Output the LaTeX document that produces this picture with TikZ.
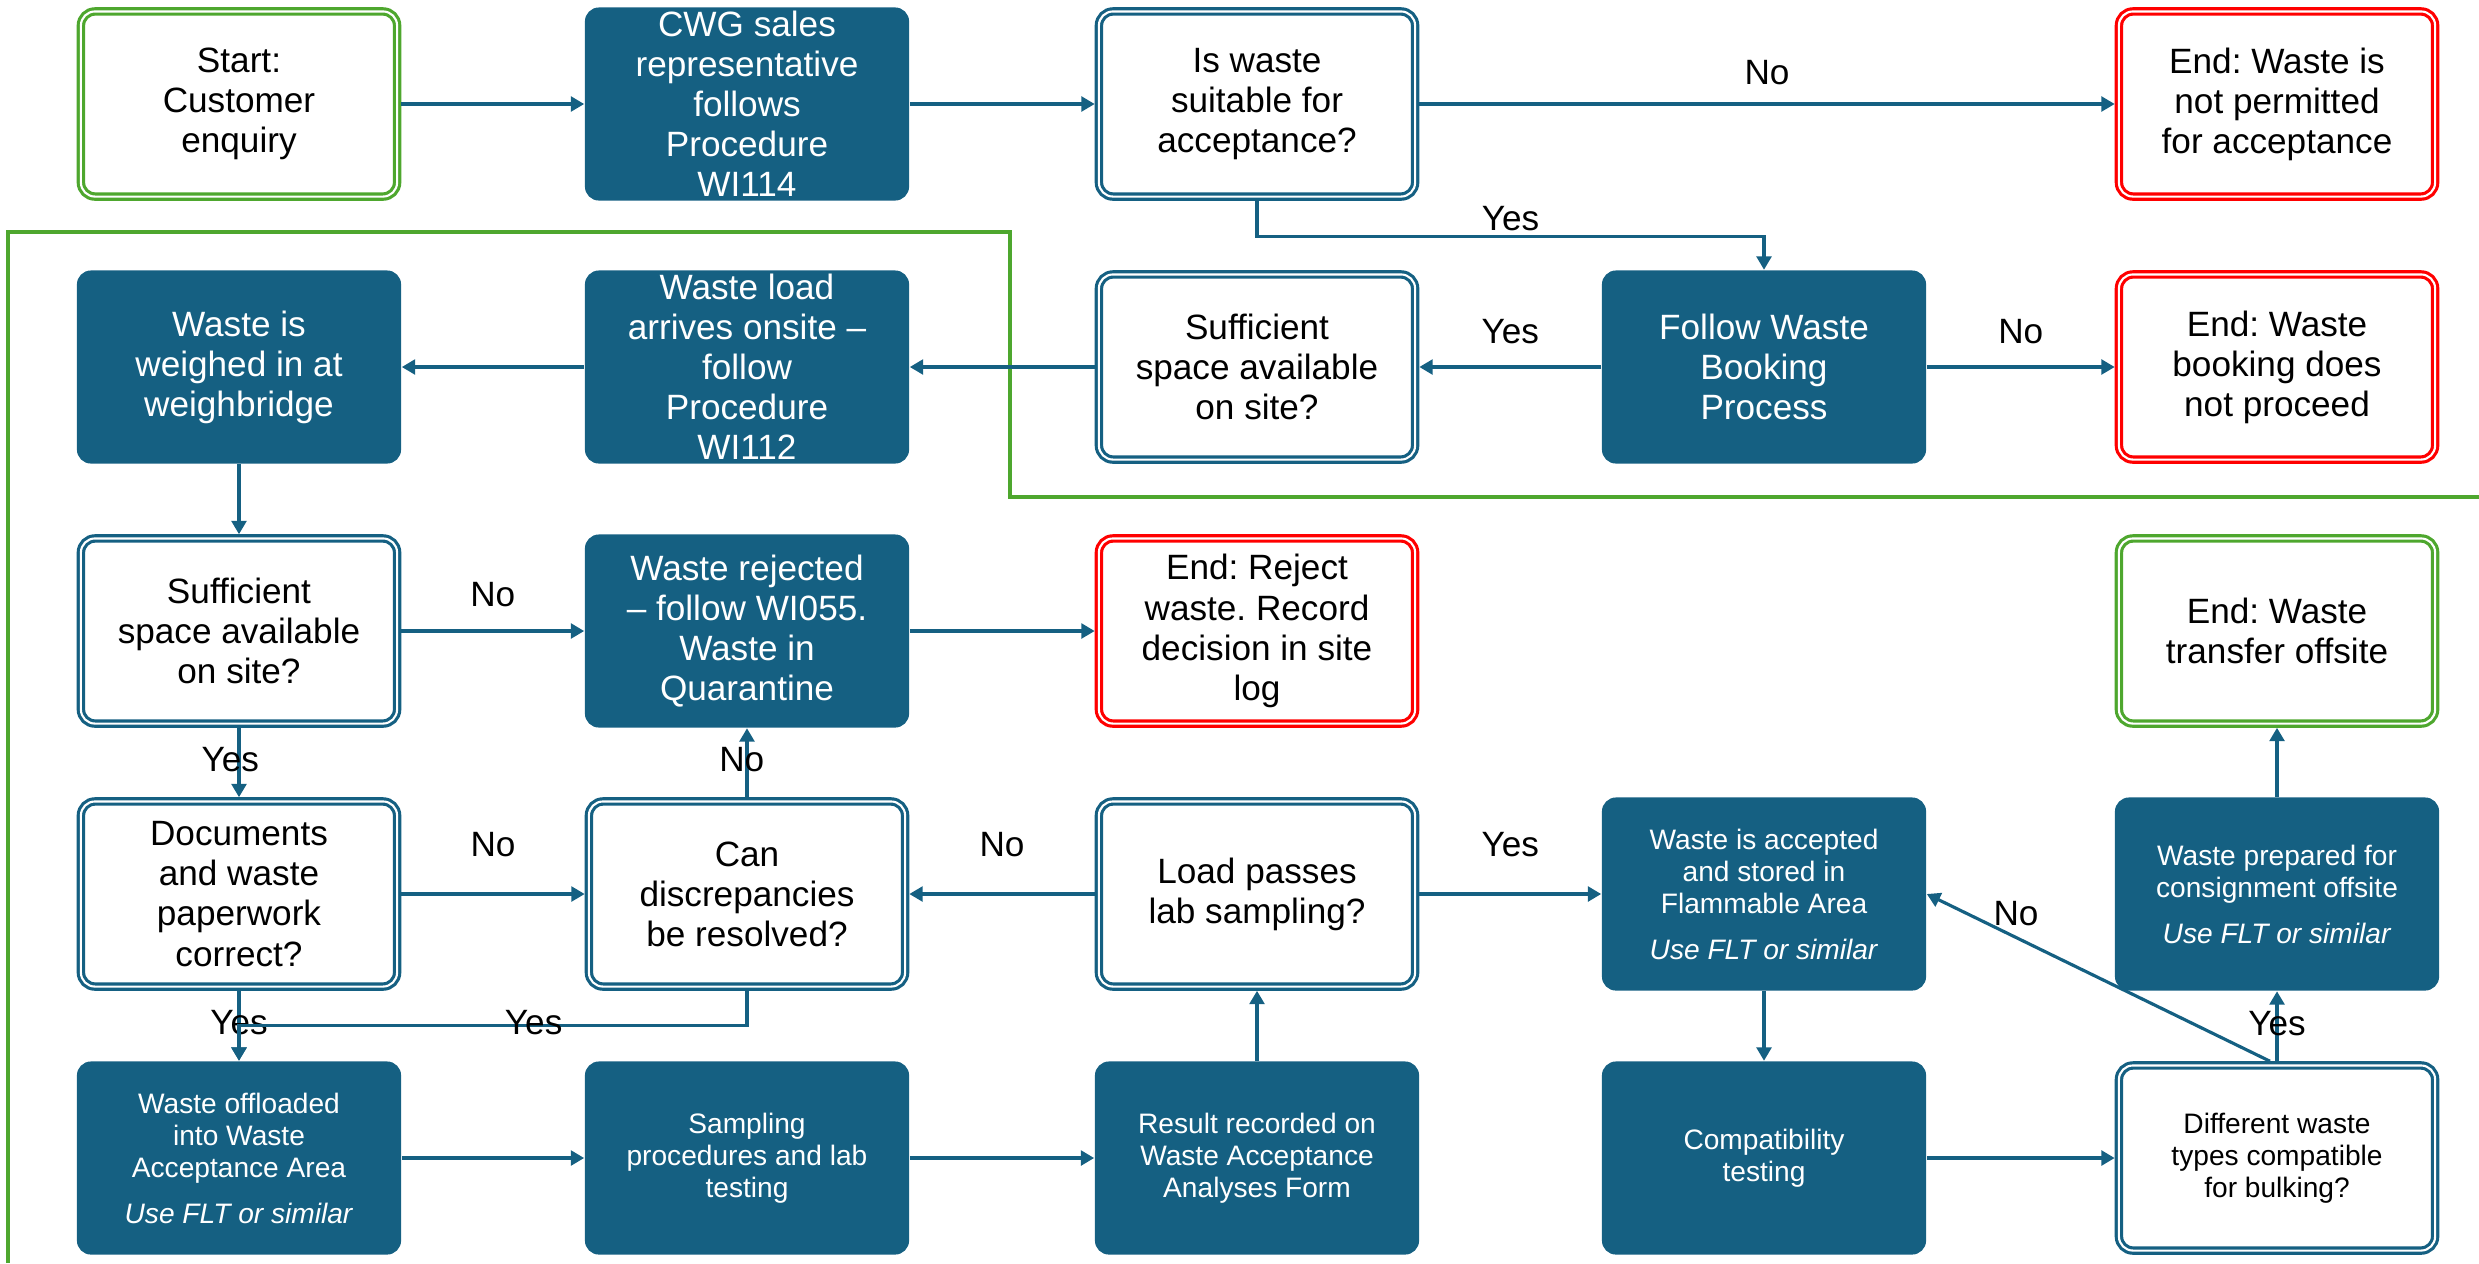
\documentclass[tikz,border=0pt]{standalone}
\usepackage{fontspec}
\setmainfont{Liberation Sans}
\usepackage{xcolor}
\usepackage{tikz}
\usetikzlibrary{arrows.meta}
\frenchspacing

\definecolor{boxblue}{HTML}{156082}
\definecolor{startgreen}{HTML}{4EA72E}
\definecolor{endred}{HTML}{FF0000}

\tikzset{
  flowbox/.style={rectangle, rounded corners=4pt, align=center, inner sep=0pt,
    minimum width=3.24cm, minimum height=1.93cm,
    font=\fontsize{10}{11.4}\selectfont},
  stepfill/.style={flowbox, fill=boxblue, text=white},
  smallfill/.style={stepfill, font=\fontsize{8}{9.1}\selectfont},
  ring/.style={flowbox, draw=#1, line width=0.9pt, double=white, double distance=0.6pt,
    minimum width=3.16cm, minimum height=1.85cm, outer sep=1.2pt},
  decision/.style={ring=boxblue},
  stopbox/.style={ring=endred},
  terminal/.style={ring=startgreen},
  conn/.style={draw=boxblue, line width=0.9pt, -{Triangle[width=4.2pt,length=3.8pt]}},
  lbl/.style={font=\fontsize{10}{11.4}\selectfont, inner sep=0pt,
    text height=7.3pt, text depth=2.1pt},
}

\begin{document}
\begin{tikzpicture}[x=0.01cm, y=-0.01cm]
    \useasboundingbox (0,0) rectangle (2479,1263);

    % green boundary line
    \draw[startgreen, line width=1pt] (8,1263) -- (8,232) -- (1010,232) -- (1010,497) -- (2479,497);

    % row 1
    \node[terminal] (start) at (239,104) {Start:\\Customer\\enquiry};
    \node[stepfill] (cwg) at (747,104) {CWG sales\\representative\\follows\\Procedure\\WI114};
    \node[decision] (suit) at (1257,104) {Is waste\\suitable for\\acceptance?};
    \node[stopbox] (endperm) at (2277,104) {End: Waste is\\not permitted\\for acceptance};

    % row 2
    \node[stepfill] (weigh) at (239,367) {Waste is\\weighed in at\\weighbridge};
    \node[stepfill] (arrive) at (747,367) {Waste load\\arrives onsite –\\follow\\Procedure\\WI112};
    \node[decision] (space1) at (1257,367) {Sufficient\\space available\\on site?};
    \node[stepfill] (booking) at (1764,367) {Follow Waste\\Booking\\Process};
    \node[stopbox] (endbook) at (2277,367) {End: Waste\\booking does\\not proceed};

    % row 3
    \node[decision] (space2) at (239,631) {Sufficient\\space available\\on site?};
    \node[stepfill] (reject) at (747,631) {Waste rejected\\– follow WI055.\\Waste in\\Quarantine};
    \node[stopbox] (endreject) at (1257,631) {End: Reject\\waste. Record\\decision in site\\log};
    \node[terminal] (endtransfer) at (2277,631) {End: Waste\\transfer offsite};

    % row 4
    \node[decision] (docs) at (239,894) {Documents\\and waste\\paperwork\\correct?};
    \node[decision] (discrep) at (747,894) {Can\\discrepancies\\be resolved?};
    \node[decision] (labpass) at (1257,894) {Load passes\\lab sampling?};
    \node[smallfill] (accepted) at (1764,894) {Waste is accepted\\and stored in\\Flammable Area\\[4pt]\textit{Use FLT or similar}};
    \node[smallfill] (prepared) at (2277,894) {Waste prepared for\\consignment offsite\\[4pt]\textit{Use FLT or similar}};

    % row 5
    \node[smallfill] (offload) at (239,1158) {Waste offloaded\\into Waste\\Acceptance Area\\[4pt]\textit{Use FLT or similar}};
    \node[smallfill] (sampling) at (747,1158) {Sampling\\procedures and lab\\testing};
    \node[smallfill] (result) at (1257,1158) {Result recorded on\\Waste Acceptance\\Analyses Form};
    \node[smallfill] (compat) at (1764,1158) {Compatibility\\testing};
    \node[decision, font=\fontsize{8}{9.1}\selectfont] (bulking) at (2277,1158) {Different waste\\types compatible\\for bulking?};

    % connectors
    \draw[conn] (start.east) -- (cwg.west);
    \draw[conn] (cwg.east) -- (suit.west);
    \draw[conn] (suit.east) -- node[lbl, above=3pt] {No} (endperm.west);
    \draw[conn] (suit.south) -- ++(0,36) -| node[lbl, pos=0.25, above=-0.7pt] {Yes} (booking.north);
    \draw[conn] (booking.west) -- node[lbl, above=4.2pt] {Yes} (space1.east);
    \draw[conn] (booking.east) -- node[lbl, above=4.2pt] {No} (endbook.west);
    \draw[conn] (space1.west) -- (arrive.east);
    \draw[conn] (arrive.west) -- (weigh.east);
    \draw[conn] (weigh.south) -- (space2.north);
    \draw[conn] (space2.east) -- node[lbl, above=4.5pt] {No} (reject.west);
    \draw[conn] (reject.east) -- (endreject.west);
    \draw[conn] (space2.south) -- node[lbl, xshift=-2.5pt] {Yes} (docs.north);
    \draw[conn] (docs.east) -- node[lbl, above=8pt] {No} (discrep.west);
    \draw[conn] (discrep.north) -- node[lbl, xshift=-1.5pt] {No} (reject.south);
    \draw[conn] (labpass.west) -- node[lbl, above=8pt] {No} (discrep.east);
    \draw[conn] (docs.south) -- node[lbl] {Yes} (offload.north);
    \draw[conn] (discrep.south) -- ++(0,35) -| node[lbl, pos=0.21] {Yes} (offload.north);
    \draw[conn] (offload.east) -- (sampling.west);
    \draw[conn] (sampling.east) -- (result.west);
    \draw[conn] (result.north) -- (labpass.south);
    \draw[conn] (labpass.east) -- node[lbl, above=8pt] {Yes} (accepted.west);
    \draw[conn] (accepted.south) -- (compat.north);
    \draw[conn] (compat.east) -- (bulking.west);
    \draw[conn] ([xshift=-2pt]bulking.north) -- node[lbl, pos=0.74, above=1pt] {No} (accepted.east);
    \draw[conn] (bulking.north) -- node[lbl] {Yes} (prepared.south);
    \draw[conn] (prepared.north) -- (endtransfer.south);
\end{tikzpicture}
\end{document}
